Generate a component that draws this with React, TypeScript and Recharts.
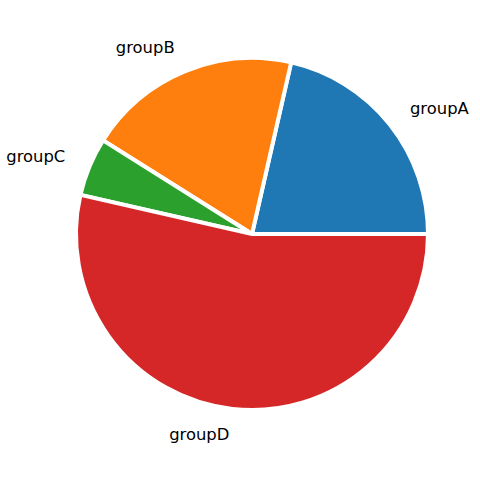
import { Cell, Pie, PieChart } from "recharts";

const groups = ["groupA", "groupB", "groupC", "groupD"];
const values = [12, 11, 3, 30];
const colors = ["#1f77b4", "#ff7f0e", "#2ca02c", "#d62728"];

const data = groups.map((name, i) => ({ name, value: values[i] }));

const RADIAN = Math.PI / 180;

const renderLabel = (props: any) => {
  const { cx, cy, midAngle, outerRadius, name } = props;
  const r = outerRadius * 1.148;
  const cos = Math.cos(-midAngle * RADIAN);
  const x = cx + r * cos;
  const y = cy + r * Math.sin(-midAngle * RADIAN);
  return (
    <text
      x={x}
      y={y + 5.5}
      textAnchor={cos >= 0 ? "start" : "end"}
      fontFamily="DejaVu Sans"
      fontSize={16.4}
      fill="#000"
    >
      {name}
    </text>
  );
};

export default function App() {
  return (
    <div style={{ position: "absolute", left: 0, top: 0, background: "#fff" }}>
      <PieChart width={480} height={480} margin={{ top: 0, right: 0, bottom: 0, left: 0 }}>
        <Pie
          data={data}
          dataKey="value"
          nameKey="name"
          cx={252}
          cy={234}
          outerRadius={176}
          startAngle={0}
          endAngle={360}
          stroke="#fff"
          strokeWidth={4}
          label={renderLabel}
          labelLine={false}
          isAnimationActive={false}
        >
          {data.map((d, i) => (
            <Cell key={d.name} fill={colors[i]} />
          ))}
        </Pie>
      </PieChart>
    </div>
  );
}
